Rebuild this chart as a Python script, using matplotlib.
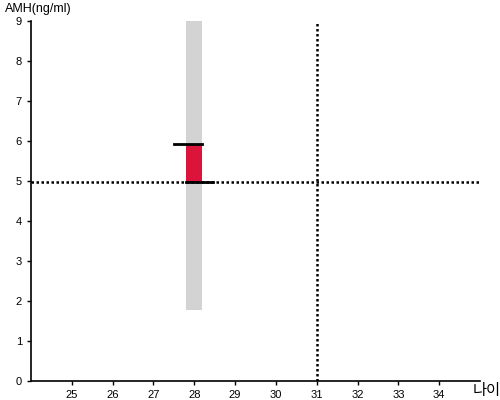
import matplotlib.pyplot as plt

age = 28
amh_low = 1.78
amh_high = 9
amh_value = 4.98
amh_top = 5.92
ref_age = 31
ref_amh = 4.98
x_ticks = [25, 26, 27, 28, 29, 30, 31, 32, 33, 34]
y_ticks = [0, 1, 2, 3, 4, 5, 6, 7, 8, 9]

plt.rcParams['font.family'] = ['Liberation Sans', 'Noto Sans CJK KR', 'DejaVu Sans']

fig = plt.figure(figsize=(5, 4), dpi=100)
ax = fig.add_axes([0.062, 0.0475, 0.898, 0.9])

bw = 0.4
ax.bar(age, amh_high - amh_low, bottom=amh_low, width=bw, color='#d3d3d3', zorder=1)
ax.bar(age, amh_top - amh_value, bottom=amh_value, width=bw, color='#dc143c', zorder=2)
ax.plot([age - 0.5, age + 0.18], [amh_top, amh_top], color='black', lw=2, zorder=3)
ax.plot([age - 0.2, age + 0.45], [amh_value, amh_value], color='black', lw=2, zorder=3)

ax.axhline(ref_amh, color='black', lw=1.8, ls=(0, (1, 1)), zorder=4)
ax.axvline(ref_age, color='black', lw=1.8, ls=(0, (1, 1)), zorder=4)

ax.set_xlim(24, 35)
ax.set_ylim(0, 9)
ax.set_xticks(x_ticks)
ax.set_yticks(y_ticks)
ax.tick_params(labelsize=8, length=3, width=1)
for s in ['top', 'right']:
    ax.spines[s].set_visible(False)
ax.spines['left'].set_linewidth(1.2)
ax.spines['bottom'].set_linewidth(1.2)

fig.text(0.01, 0.963, 'AMH(ng/ml)', fontsize=9, ha='left', va='bottom')
fig.text(0.945, 0.002, '나이', fontsize=11, ha='left', va='bottom',
         family=['Noto Sans CJK KR', 'DejaVu Sans'])

fig.savefig('out.png', dpi=100)
